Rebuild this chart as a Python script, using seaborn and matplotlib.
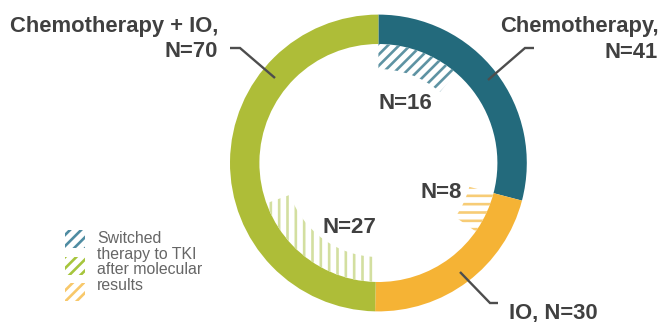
import numpy as np
import matplotlib
matplotlib.use("Agg")
import matplotlib.pyplot as plt
from matplotlib.patches import Wedge, Rectangle
import seaborn as sns

# Patients by first-line treatment
categories = ["Chemotherapy", "IO", "Chemotherapy + IO"]
counts = [41, 30, 70]
# Patients who switched therapy to TKI after molecular results
switched = [16, 8, 27]

ring_colors = ["#236a7c", "#f5b335", "#aebd38"]
hatch_colors = ["#5e93a3", "#f7cc76", "#d3dfa0"]
legend_hatch_colors = ["#4f8ca2", "#a6c53c", "#f8c86a"]
hatches = ["///", "--", "||"]
legend_text = "Switched\ntherapy to TKI\nafter molecular\nresults"

sns.set_theme(style="white")
plt.rcParams["font.family"] = ["Liberation Sans", "DejaVu Sans"]
HATCH_LW = 1.9
plt.rcParams["hatch.linewidth"] = HATCH_LW

W, H = 663, 322
fig = plt.figure(figsize=(W / 100, H / 100), dpi=100)
ax = fig.add_axes([0, 0, 1, 1])


def Y(y):
    # pixel rows are measured from the top
    return H - y


cx, cy = 378.4, Y(163.0)
r_out, ring_w = 148.4, 29.4
r_in = r_out - ring_w
band = 25.0

ax.pie(counts, colors=ring_colors, startangle=90, counterclock=False,
       radius=r_out, center=(cx, cy),
       wedgeprops=dict(width=ring_w, linewidth=0))

# hatched bands inside each segment, sized by the switched counts
total = float(sum(counts))
start = 90.0
for n_seg, n_sw, hc, ht in zip(counts, switched, hatch_colors, hatches):
    span = n_sw / total * 360.0
    w = Wedge((cx, cy), r_in, start - span, start, width=band,
              facecolor="none", edgecolor=hc, hatch=ht, linewidth=0)
    try:
        w.set_hatch_linewidth(HATCH_LW)
    except AttributeError:
        pass
    ax.add_patch(w)
    start -= n_seg / total * 360.0

ax.set_xlim(0, W)
ax.set_ylim(0, H)
ax.set_aspect("equal")
ax.axis("off")

dark = "#404040"
line_c = "#4d4d4d"
fs_out = 15.8
fs_in = 16

# outer labels
ax.text(218, Y(32), f"{categories[2]},", ha="right", va="baseline",
        fontsize=fs_out, fontweight="bold", color=dark)
ax.text(218, Y(57), f"N={counts[2]}", ha="right", va="baseline",
        fontsize=fs_out, fontweight="bold", color=dark)
ax.text(659, Y(32), f"{categories[0]},", ha="right", va="baseline",
        fontsize=fs_out, fontweight="bold", color=dark)
ax.text(658, Y(58), f"N={counts[0]}", ha="right", va="baseline",
        fontsize=fs_out, fontweight="bold", color=dark)
ax.text(509, Y(318), f"{categories[1]}, N={counts[1]}", ha="left", va="baseline",
        fontsize=fs_out, fontweight="bold", color=dark)

# leader lines
for xs, ys in [([230, 240, 275], [48, 48, 78]),
               ([534, 525, 488], [48, 48, 80]),
               ([460, 490, 498], [272, 303, 303])]:
    ax.plot(xs, [Y(v) for v in ys], color=line_c, lw=1.7,
            solid_capstyle="butt", solid_joinstyle="miter")

# inner labels
for (x, y), n in zip([(405, 109), (441, 198), (349, 233)], switched):
    ax.text(x, Y(y), f"N={n}", ha="center", va="baseline",
            fontsize=fs_in, fontweight="bold", color=dark)

# legend swatches and text
for i, c in enumerate(legend_hatch_colors):
    top = 230 + i * 26.5
    rect = Rectangle((65, Y(top + 18)), 20, 18, facecolor="none",
                     edgecolor=c, hatch="///", linewidth=0)
    try:
        rect.set_hatch_linewidth(HATCH_LW)
    except AttributeError:
        pass
    ax.add_patch(rect)

ax.text(97, Y(231), legend_text, ha="left", va="top", fontsize=11.4,
        color="#666666", linespacing=1.05)

fig.savefig("out.png", dpi=100)
